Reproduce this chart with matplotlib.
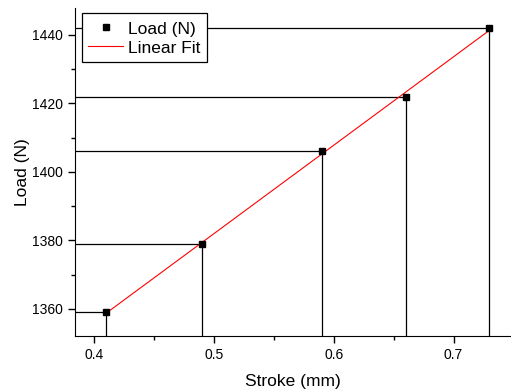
import numpy as np
import matplotlib
matplotlib.use('Agg')
from matplotlib import pyplot as plt
from matplotlib.ticker import MultipleLocator, AutoMinorLocator

plt.rcParams['font.family'] = ['Liberation Sans', 'DejaVu Sans']

# data
stroke = [0.41, 0.49, 0.59, 0.66, 0.73]
load = [1359, 1379, 1406, 1422, 1442]

xmin, xmax = 0.384, 0.748
ymin, ymax = 1352.1, 1447.9

fig = plt.figure(figsize=(5.11, 3.92), dpi=100)
ax = fig.add_axes([0.147, 0.143, 0.853, 0.837])

# drop lines to the axes
for x, y in zip(stroke, load):
    ax.plot([xmin, x], [y, y], color='black', lw=0.9, zorder=1)
    ax.plot([x, x], [ymin, y], color='black', lw=0.9, zorder=1)

# linear fit
k, b = np.polyfit(stroke, load, 1)
xf = np.array([stroke[0], stroke[-1]])
ax.plot(xf, k * xf + b, color='red', lw=0.8, label='Linear Fit', zorder=2)
ax.plot(stroke, load, 's', color='black', ms=5, label='Load (N)', zorder=3)

ax.set_xlim(xmin, xmax)
ax.set_ylim(ymin, ymax)
ax.xaxis.set_major_locator(MultipleLocator(0.1))
ax.yaxis.set_major_locator(MultipleLocator(20))
ax.xaxis.set_minor_locator(AutoMinorLocator(2))
ax.yaxis.set_minor_locator(AutoMinorLocator(2))
ax.tick_params(which='major', direction='out', length=5, width=1, labelsize=10)
ax.tick_params(which='minor', direction='out', length=3, width=1)
ax.spines['top'].set_visible(False)
ax.spines['right'].set_visible(False)
ax.set_xlabel('Stroke (mm)', fontsize=12.5, labelpad=9)
ax.set_ylabel('Load (N)', fontsize=12.5, labelpad=2)

h, l = ax.get_legend_handles_labels()
leg = ax.legend(h[::-1], l[::-1], loc='upper left', bbox_to_anchor=(0.016, 0.983),
                fontsize=12.5, fancybox=False, edgecolor='black', framealpha=1,
                borderpad=0.35, handlelength=2.0, handleheight=1.2,
                handletextpad=0.3, labelspacing=0.05, borderaxespad=0)
leg.get_frame().set_linewidth(0.9)

fig.savefig('out.png', dpi=100)
